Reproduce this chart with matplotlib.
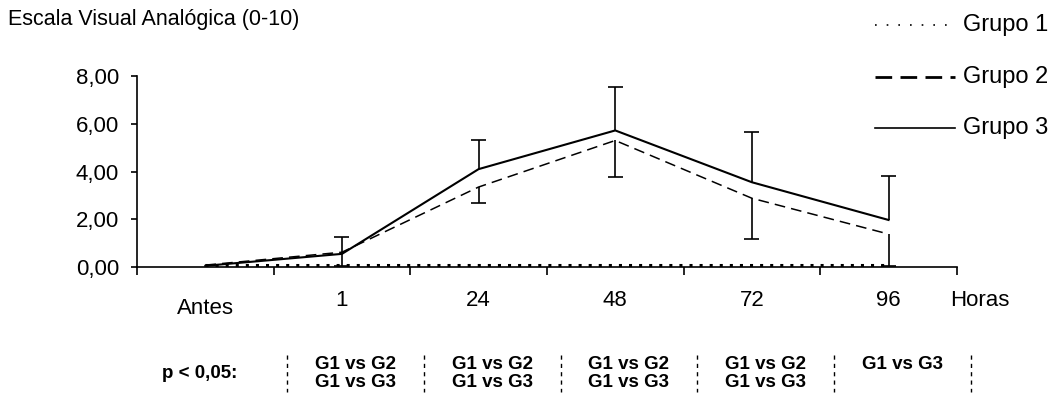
import numpy as np
import matplotlib.pyplot as plt
from matplotlib.lines import Line2D
from matplotlib.ticker import FuncFormatter

plt.rcParams['font.family'] = ['Liberation Sans', 'DejaVu Sans']

# Dados (Escala Visual Analógica, médias e desvios)
momentos = ['Antes', '1', '24', '48', '72', '96']
grupo1 = [0.07, 0.07, 0.07, 0.07, 0.07, 0.07]
grupo2 = [0.08, 0.62, 3.35, 5.30, 2.88, 1.38]
grupo3 = [0.05, 0.55, 4.10, 5.72, 3.55, 1.97]
dp2 = [np.nan, 0.57, 0.67, 1.55, 1.71, 1.33]   # barra para baixo
dp3 = [np.nan, 0.71, 1.20, 1.80, 2.10, 1.83]   # barra para cima
signif = [['G1 vs G2', 'G1 vs G3'],
          ['G1 vs G2', 'G1 vs G3'],
          ['G1 vs G2', 'G1 vs G3'],
          ['G1 vs G2', 'G1 vs G3'],
          ['G1 vs G3']]

x = np.arange(len(momentos))

fig = plt.figure(figsize=(10.62, 3.93), dpi=100)
ax = fig.add_axes([0.129, 0.3206, 0.772, 0.486])

ax.plot(x, grupo1, color='black', lw=2.2, linestyle=(0, (1, 2.3)), clip_on=False)
ax.plot(x, grupo2, color='black', lw=1.1, linestyle=(0, (7, 4)), clip_on=False)
ax.plot(x, grupo3, color='black', lw=1.5, clip_on=False)

# barras de erro: G3 para cima, G2 para baixo
cap = 0.055
g2 = np.array(grupo2)
g3 = np.array(grupo3)
s2 = np.array(dp2)
s3 = np.array(dp3)
ok = ~np.isnan(s3)
ax.vlines(x[ok], g3[ok], g3[ok] + s3[ok], color='black', lw=1.2, clip_on=False)
ax.hlines(g3[ok] + s3[ok], x[ok] - cap, x[ok] + cap, color='black', lw=1.2, clip_on=False)
ok = ~np.isnan(s2)
ax.vlines(x[ok], g2[ok] - s2[ok], g2[ok], color='black', lw=1.2, clip_on=False)
ax.hlines(g2[ok] - s2[ok], x[ok] - cap, x[ok] + cap, color='black', lw=1.2, clip_on=False)

ax.set_xlim(-0.5, 5.5)
ax.set_ylim(0, 8)
ax.set_yticks([0, 2, 4, 6, 8])
ax.yaxis.set_major_formatter(FuncFormatter(lambda v, p: f'{v:.2f}'.replace('.', ',')))
ax.set_xticks(np.arange(-0.5, 6, 1.0))
ax.set_xticklabels([])
for s in ['top', 'right']:
    ax.spines[s].set_visible(False)
for s in ['left', 'bottom']:
    ax.spines[s].set_linewidth(1.2)
ax.tick_params(axis='y', length=4, width=1.2, pad=9, labelsize=16)
ax.tick_params(axis='x', length=6, width=1.2)

tr = ax.get_xaxis_transform()
for i, m in enumerate(momentos):
    yy = -0.215 if i == 0 else -0.175
    ax.text(x[i], yy, m, transform=tr, ha='center', va='center', fontsize=16)
ax.text(5.667, -0.175, 'Horas', transform=tr, ha='center', va='center', fontsize=16)

# linha de significância
ax.text(-0.04, -0.56, 'p < 0,05:', transform=tr, ha='center', va='center',
        fontsize=13.5, fontweight='bold')
seps = np.arange(len(signif) + 1) + 0.6
for sx in seps:
    ax.plot([sx, sx], [-0.46, -0.655], transform=tr, color='black', lw=1.0,
            linestyle=(0, (3, 3)), clip_on=False)
for i, linhas in enumerate(signif):
    cx = (seps[i] + seps[i + 1]) / 2
    for j, t in enumerate(linhas):
        ax.text(cx, -0.51 - j * 0.094, t, transform=tr, ha='center', va='center',
                fontsize=13.5, fontweight='bold')

fig.text(8 / 1062, 1 - 20 / 393, 'Escala Visual Analógica (0-10)', ha='left', va='center',
         fontsize=15.5)

# legenda
estilos = [(1.2, (0, (1, 6))), (2.0, (0, (6, 3))), (1.2, '-')]
nomes = ['Grupo 1', 'Grupo 2', 'Grupo 3']
ys = [25, 77, 128]
for (lw, ls), nome, yp in zip(estilos, nomes, ys):
    yf = 1 - yp / 393
    fig.add_artist(Line2D([875 / 1062, 955 / 1062], [yf, yf], color='black', lw=lw, linestyle=ls))
    fig.text(963 / 1062, yf, nome, ha='left', va='center', fontsize=17)

fig.savefig('out.png', dpi=100)
